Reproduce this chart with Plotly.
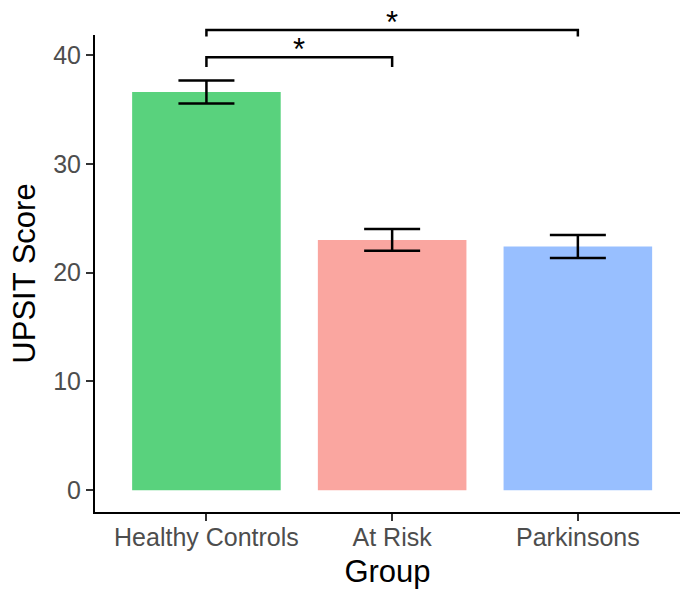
import plotly.graph_objects as go

groups = ["Healthy Controls", "At Risk", "Parkinsons"]
means = [36.6, 23.0, 22.4]
sems = [1.06, 1.0, 1.06]
colors = ["#59D27D", "#FAA6A0", "#98BFFF"]

# significance brackets: (from group index, to group index, top y, leg bottom y, label)
brackets = [
    (0, 1, 39.8, 38.9, "*"),
    (0, 2, 42.3, 41.7, "*"),
]

x_range = [-0.6, 2.55]
y_range = [-2.0, 41.84]

W, H = 680, 591
fig = go.Figure()
fig.add_trace(go.Bar(
    x=list(range(len(groups))), y=means,
    width=0.8,
    marker=dict(color=colors, line=dict(width=0)),
    error_y=dict(type="data", array=sems, visible=True, color="black",
                 thickness=2.5, width=28),
    showlegend=False,
))

def px_(i):
    return (i - x_range[0]) / (x_range[1] - x_range[0])

def py_(v):
    return (v - y_range[0]) / (y_range[1] - y_range[0])

shapes = []
annotations = []
for a, b, top, leg, lab in brackets:
    shapes.append(dict(
        type="path", xref="paper", yref="paper",
        path=f"M {px_(a)},{py_(leg)} L {px_(a)},{py_(top)} L {px_(b)},{py_(top)} L {px_(b)},{py_(leg)}",
        line=dict(color="black", width=2.5),
    ))
    annotations.append(dict(
        xref="paper", yref="paper", x=(px_(a) + px_(b)) / 2, y=py_(top),
        text=lab, showarrow=False, yanchor="bottom", yshift=-12,
        font=dict(family="Liberation Sans, Arial", size=31, color="black"),
    ))

fig.update_layout(
    width=W, height=H,
    margin=dict(l=95, r=0, t=35, b=79.3, pad=0),
    plot_bgcolor="white", paper_bgcolor="white",
    font=dict(family="Liberation Sans, Arial", color="black"),
    shapes=shapes, annotations=annotations,
    bargap=0.2,
)
fig.update_xaxes(
    range=x_range, tickmode="array", tickvals=list(range(len(groups))), ticktext=groups,
    showline=True, linecolor="black", linewidth=2, mirror=False,
    ticks="outside", ticklen=7, tickwidth=2, tickcolor="#333333",
    ticklabelstandoff=-5,
    tickfont=dict(size=25, color="#4D4D4D"), showgrid=False, zeroline=False,
    title=dict(text="Group", font=dict(size=31, color="black"), standoff=10),
)
fig.update_yaxes(
    range=y_range, tickvals=[0, 10, 20, 30, 40],
    showline=True, linecolor="black", linewidth=2,
    ticks="outside", ticklen=7, tickwidth=2, tickcolor="#333333",
    tickfont=dict(size=25, color="#4D4D4D"), showgrid=False, zeroline=False,
    title=dict(text="UPSIT Score", font=dict(size=31, color="black"), standoff=8),
)

fig.write_html("out.html")
